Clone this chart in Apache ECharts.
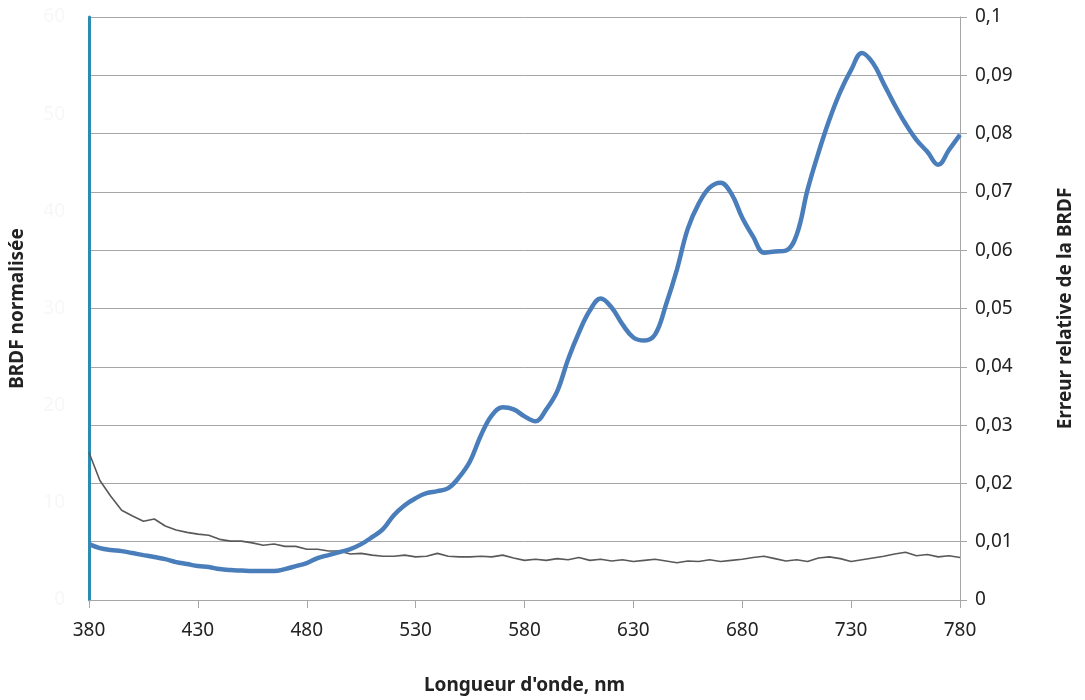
<!DOCTYPE html>
<html>
<head>
<meta charset="utf-8">
<script src="https://cdn.jsdelivr.net/npm/echarts@6/dist/echarts.min.js"></script>
<style>
html,body{margin:0;padding:0;background:#fff;}
#chart{width:1085px;height:700px;}
</style>
</head>
<body>
<div id="chart"></div>
<script>
// Wavelengths (nm), 5 nm steps
const wavelengths = [380,385,390,395,400,405,410,415,420,425,430,435,440,445,450,455,460,465,470,475,480,485,490,495,500,505,510,515,520,525,530,535,540,545,550,555,560,565,570,575,580,585,590,595,600,605,610,615,620,625,630,635,640,645,650,655,660,665,670,675,680,685,690,695,700,705,710,715,720,725,730,735,740,745,750,755,760,765,770,775,780];

// BRDF normalisée (left axis, 0-60)
const brdf = [5.75,5.34,5.14,5.03,4.83,4.62,4.42,4.21,3.90,3.70,3.49,3.39,3.18,3.08,3.03,2.98,2.98,2.98,3.18,3.49,3.80,4.32,4.62,4.93,5.24,5.75,6.47,7.29,8.73,9.76,10.48,10.99,11.20,11.51,12.64,14.28,16.95,19.01,19.83,19.62,18.90,18.39,19.62,21.47,24.76,27.53,29.79,31.03,30.10,28.36,27.02,26.71,27.33,30.41,34.01,38.22,40.79,42.43,42.95,41.82,39.35,37.40,35.75,35.86,35.96,37.60,42.23,46.03,49.42,52.29,54.55,56.30,55.27,53.12,50.96,49.01,47.36,46.13,44.79,46.34,47.88];

// Erreur relative de la BRDF (right axis, 0-0.1)
const erreur = [0.0253,0.0205,0.0178,0.0154,0.0144,0.0135,0.0139,0.0127,0.0120,0.0116,0.0113,0.0111,0.0104,0.0101,0.0101,0.0098,0.0094,0.0096,0.0092,0.0092,0.0087,0.0087,0.0084,0.0084,0.0079,0.0080,0.0077,0.0075,0.0075,0.0077,0.0074,0.0075,0.0080,0.0075,0.0074,0.0074,0.0075,0.0074,0.0077,0.0072,0.0068,0.0070,0.0068,0.0071,0.0069,0.0073,0.0068,0.0070,0.0067,0.0069,0.0066,0.0068,0.0070,0.0067,0.0064,0.0067,0.0066,0.0069,0.0066,0.0068,0.0070,0.0073,0.0075,0.0071,0.0067,0.0069,0.0066,0.0072,0.0074,0.0071,0.0066,0.0069,0.0072,0.0075,0.0079,0.0082,0.0076,0.0078,0.0074,0.0076,0.0073];

const xTicks = {min:380, max:780, interval:50};
const leftTicks = {min:0, max:60, interval:10};
const rightTicks = {min:0, max:0.1, interval:0.01};

const FONT = 'Noto Sans';
const chart = echarts.init(document.getElementById('chart'), null, {renderer:'canvas'});
chart.setOption({
  animation:false,
  backgroundColor:'#ffffff',
  textStyle:{fontFamily:FONT},
  grid:{left:89,right:125,top:17,bottom:99,containLabel:false},
  xAxis:{
    type:'value', min:xTicks.min, max:xTicks.max, interval:xTicks.interval,
    name:"Longueur d'onde, nm", nameLocation:'middle', nameGap:76,
    nameTextStyle:{fontFamily:FONT,fontSize:19,fontWeight:'bold',color:'#222'},
    axisLine:{show:true,onZero:false,lineStyle:{color:'#a6a6a6',width:1}},
    axisTick:{show:true,length:8,lineStyle:{color:'#a6a6a6'}},
    axisLabel:{fontFamily:FONT,fontSize:19,color:'#222',margin:21},
    splitLine:{show:false}
  },
  yAxis:[
    {
      type:'value', position:'left', min:leftTicks.min, max:leftTicks.max, interval:leftTicks.interval,
      name:'BRDF normalisée', nameLocation:'middle', nameGap:62, nameRotate:90,
      nameTextStyle:{fontFamily:FONT,fontSize:19,fontWeight:'bold',color:'#222'},
      axisLine:{show:true,lineStyle:{color:'#2b8cb3',width:3}},
      axisTick:{show:false},
      axisLabel:{fontFamily:FONT,fontSize:19,color:'#f7f7f7',margin:24},
      splitLine:{show:false}
    },
    {
      type:'value', position:'right', min:rightTicks.min, max:rightTicks.max, interval:rightTicks.interval,
      name:'Erreur relative de la BRDF', nameLocation:'middle', nameGap:96, nameRotate:90,
      nameTextStyle:{fontFamily:FONT,fontSize:19,fontWeight:'bold',color:'#222'},
      axisLine:{show:true,lineStyle:{color:'#a6a6a6',width:1}},
      axisTick:{show:true,length:7,inside:false,lineStyle:{color:'#a6a6a6'}},
      axisLabel:{fontFamily:FONT,fontSize:19,color:'#222',margin:15,
        formatter:function(v){return String(+v.toFixed(2)).replace('.',',');}},
      splitLine:{show:true,lineStyle:{color:'#a6a6a6',width:1}}
    }
  ],
  series:[
    {
      type:'line', name:'Erreur relative', yAxisIndex:1,
      data:wavelengths.map((w,i)=>[w,erreur[i]]),
      showSymbol:false, smooth:false,
      lineStyle:{color:'#595959',width:1.6}, z:2
    },
    {
      type:'line', name:'BRDF normalisée', yAxisIndex:0,
      data:wavelengths.map((w,i)=>[w,brdf[i]]),
      showSymbol:false, smooth:0.4,
      lineStyle:{color:'#4a7ebb',width:4.5}, z:3
    }
  ]
});
</script>
</body>
</html>
